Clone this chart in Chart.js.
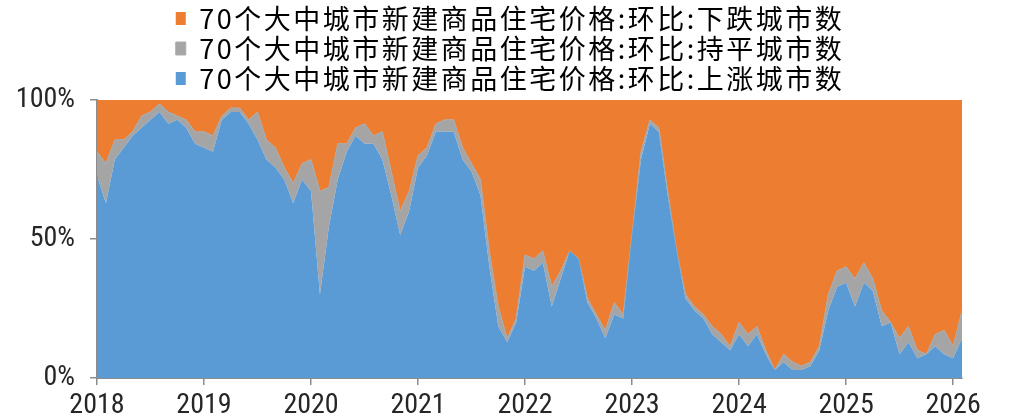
<!DOCTYPE html>
<html>
<head>
<meta charset="utf-8">
<script src="https://cdn.jsdelivr.net/npm/chart.js@4.4.1/dist/chart.umd.min.js"></script>
<style>
  html, body { margin: 0; padding: 0; background: #ffffff; }
  #wrap { width: 1010px; height: 420px; position: relative; }
</style>
</head>
<body>
<div id="wrap"><canvas id="c" width="1010" height="420"></canvas></div>
<script>
// Monthly categories, 2018-01 .. 2026-02
const months = [];
for (let y = 2018; y <= 2026; y++) {
  for (let m = 1; m <= 12; m++) {
    if (y === 2026 && m > 2) break;
    months.push(y + '-' + String(m).padStart(2, '0'));
  }
}

// Number of cities (out of 70) whose new-home prices rose / were flat / fell month on month
const upCities = [
  51, 44, 55, 58, 61, 63, 65, 67, 64, 65, 63, 59,
  58, 57, 65, 67, 67, 64, 60, 55, 53, 50, 44, 50,
  47, 21, 38, 50, 57, 61, 59, 59, 55, 46, 36, 42,
  53, 56, 62, 62, 62, 55, 52, 46, 28, 13, 9, 14,
  28, 27, 29, 18, 25, 32, 30, 19, 15, 10, 16, 15,
  36, 55, 64, 62, 46, 32, 20, 17, 15, 11, 9, 7,
  11, 8, 11, 6, 2, 4, 2, 2, 3, 7, 17, 23,
  24, 18, 24, 22, 13, 14, 6, 9, 5, 6, 8, 6,
  5, 10
];
const flatCities = [
  6, 10, 5, 2, 1, 3, 2, 2, 3, 1, 2, 3,
  4, 4, 1, 1, 1, 1, 7, 5, 5, 3, 5, 4,
  8, 26, 10, 9, 2, 2, 5, 2, 7, 6, 6, 5,
  3, 2, 2, 3, 3, 3, 2, 4, 4, 5, 1, 1,
  3, 3, 3, 5, 2, 0, 0, 1, 1, 2, 3, 1,
  0, 2, 1, 1, 1, 0, 1, 1, 1, 2, 2, 1,
  3, 3, 2, 1, 0, 2, 2, 1, 1, 1, 4, 4,
  4, 7, 5, 3, 4, 0, 4, 4, 2, 0, 3, 6,
  3, 7
];
const downCities = [
  13, 16, 10, 10, 8, 4, 3, 1, 3, 4, 5, 8,
  8, 9, 4, 2, 2, 5, 3, 10, 12, 17, 21, 16,
  15, 23, 22, 11, 11, 7, 6, 9, 8, 18, 28, 23,
  14, 12, 6, 5, 5, 12, 16, 20, 38, 52, 60, 55,
  39, 40, 38, 47, 43, 38, 40, 50, 54, 58, 51, 54,
  34, 13, 5, 7, 23, 38, 49, 52, 54, 57, 59, 62,
  56, 59, 57, 63, 68, 64, 66, 67, 66, 62, 49, 43,
  42, 45, 41, 45, 53, 56, 60, 57, 63, 64, 59, 58,
  62, 53
];

const seriesNames = [
  '70个大中城市新建商品住宅价格:环比:上涨城市数',
  '70个大中城市新建商品住宅价格:环比:持平城市数',
  '70个大中城市新建商品住宅价格:环比:下跌城市数'
];
const seriesColors = ['#5B9BD5', '#A5A5A5', '#ED7D31'];
const yTickValues = [0, 50, 100];
const yearLabels = ['2018', '2019', '2020', '2021', '2022', '2023', '2024', '2025', '2026'];

// 100% stacking: each month's counts as shares of that month's total
const totals = upCities.map((v, i) => v + flatCities[i] + downCities[i]);
const share = arr => arr.map((v, i) => v / totals[i] * 100);

const AXIS = '#8C8C8C';

// Prefer a narrow face for the axis numbers; shrink a regular face to a similar width otherwise
function fontAvailable(name) {
  const c = document.createElement('canvas').getContext('2d');
  const s = 'abcdefghijklmnopqrstuvwxyz0123456789%';
  c.font = '40px monospace';
  const a = c.measureText(s).width;
  c.font = '40px "' + name + '", monospace';
  return c.measureText(s).width !== a;
}
const narrowFamily = ['Liberation Sans Narrow', 'Arial Narrow', 'Roboto Condensed', 'Open Sans Condensed']
  .find(fontAvailable);
const tickFamily = narrowFamily ? '"' + narrowFamily + '"' : '"Liberation Sans", Arial, sans-serif';
const tickSize = (() => {
  const c = document.createElement('canvas').getContext('2d');
  c.font = '28px ' + tickFamily;
  const w = c.measureText('2018').width;
  return Math.min(28, Math.round(28 * 56 / w));
})();
const TICK_FONT = { family: tickFamily, size: tickSize };

// Legend tweaks: wider glyph spacing, a fixed legend band height, and a small horizontal nudge
const LEGEND_SPACING = '2.5px';
const legendTweak = {
  id: 'legendTweak',
  afterInit(chart) {
    const lg = chart.legend;
    const fit = lg.fit;
    const draw = lg.draw;
    lg.fit = function () {
      const c = this.ctx;
      c.save();
      c.letterSpacing = LEGEND_SPACING;
      fit.call(this);
      c.restore();
      this.height = 98;
    };
    lg.draw = function () {
      const c = this.ctx;
      c.save();
      c.letterSpacing = LEGEND_SPACING;
      c.translate(29, 0);
      draw.call(this);
      c.restore();
    };
  }
};

new Chart(document.getElementById('c'), {
  type: 'line',
  data: {
    labels: months,
    datasets: [
      { label: seriesNames[0], data: share(upCities), backgroundColor: seriesColors[0], borderColor: seriesColors[0], borderWidth: 0, fill: 'origin' },
      { label: seriesNames[1], data: share(flatCities), backgroundColor: seriesColors[1], borderColor: '#ABABAB', borderWidth: 1, fill: '-1' },
      { label: seriesNames[2], data: share(downCities), backgroundColor: seriesColors[2], borderColor: seriesColors[2], borderWidth: 0, fill: '-1' }
    ]
  },
  options: {
    responsive: false,
    devicePixelRatio: 1,
    animation: false,
    layout: { padding: { top: 2, right: 48, bottom: 0, left: 0 } },
    elements: { point: { radius: 0, hoverRadius: 0 }, line: { tension: 0 } },
    plugins: {
      tooltip: { enabled: false },
      legend: {
        position: 'top',
        reverse: true,
        labels: {
          boxWidth: 10,
          boxHeight: 13,
          padding: 3,
          color: '#000000',
          font: { family: "'Noto Sans CJK SC', sans-serif", size: 27 }
        }
      }
    },
    scales: {
      x: {
        type: 'category',
        offset: false,
        border: { display: true, color: AXIS, width: 2 },
        grid: {
          display: true,
          drawOnChartArea: false,
          drawTicks: true,
          tickLength: 7,
          lineWidth: 1.5,
          color: ctx => (ctx.index % 12 === 0 ? AXIS : 'rgba(0,0,0,0)')
        },
        ticks: {
          autoSkip: false,
          maxRotation: 0,
          minRotation: 0,
          padding: 4,
          color: '#262626',
          font: TICK_FONT,
          callback: (v, i) => (i % 12 === 0 ? yearLabels[i / 12] : '')
        },
        afterFit: s => { s.height = 42; }
      },
      y: {
        stacked: true,
        min: 0,
        max: 100,
        border: { display: true, color: AXIS, width: 2 },
        grid: {
          display: true,
          drawOnChartArea: false,
          drawTicks: true,
          tickLength: 7,
          lineWidth: 1.5,
          color: AXIS
        },
        afterBuildTicks: s => { s.ticks = yTickValues.map(v => ({ value: v })); },
        ticks: {
          padding: 15,
          color: '#262626',
          font: TICK_FONT,
          callback: v => v + '%'
        },
        afterFit: s => { s.width = 97; }
      }
    }
  },
  plugins: [legendTweak]
});
</script>
</body>
</html>
